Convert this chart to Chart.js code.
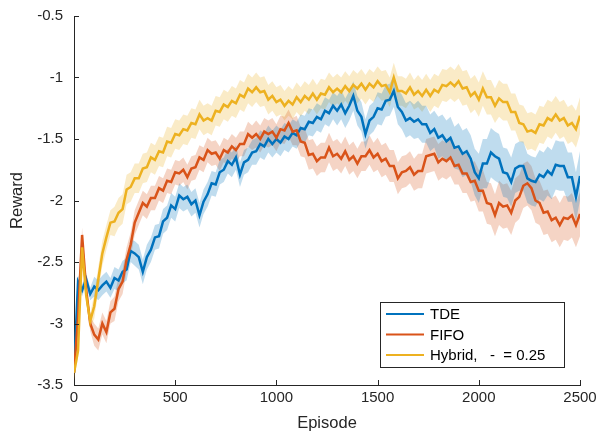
<!DOCTYPE html>
<html>
<head>
<meta charset="utf-8">
<script src="https://cdn.jsdelivr.net/npm/chart.js@4/dist/chart.umd.min.js"></script>
<style>
  html, body { margin:0; padding:0; background:#fff; }
  #wrap { width:598px; height:437px; }
</style>
</head>
<body>
<div id="wrap"><canvas id="chart" width="598" height="437"></canvas></div>
<script>
// episodes are sampled every 20 steps, 0..2500
const STEP = 20;

// mean reward
const tde = [
  -3.40,-2.66,-2.73,-2.64,-2.76,-2.70,-2.73,-2.69,-2.66,-2.71,
  -2.63,-2.65,-2.58,-2.56,-2.41,-2.43,-2.46,-2.58,-2.46,-2.40,
  -2.30,-2.29,-2.17,-2.14,-2.04,-2.07,-1.96,-1.99,-1.97,-2.03,
  -2.00,-2.12,-2.01,-1.95,-1.86,-1.87,-1.77,-1.75,-1.68,-1.71,
  -1.65,-1.79,-1.69,-1.67,-1.61,-1.60,-1.54,-1.56,-1.50,-1.54,
  -1.50,-1.53,-1.48,-1.50,-1.45,-1.47,-1.41,-1.42,-1.36,-1.37,
  -1.32,-1.34,-1.27,-1.29,-1.23,-1.27,-1.22,-1.29,-1.23,-1.15,
  -1.27,-1.32,-1.46,-1.35,-1.32,-1.25,-1.26,-1.19,-1.18,-1.11,
  -1.24,-1.28,-1.35,-1.33,-1.36,-1.34,-1.38,-1.38,-1.45,-1.42,
  -1.49,-1.47,-1.52,-1.49,-1.57,-1.56,-1.62,-1.60,-1.66,-1.77,
  -1.82,-1.70,-1.70,-1.61,-1.64,-1.66,-1.77,-1.78,-1.85,-1.74,
  -1.72,-1.72,-1.82,-1.84,-1.85,-1.79,-1.81,-1.76,-1.79,-1.71,
  -1.72,-1.72,-1.81,-1.81,-1.97,-1.80
];
const fifo = [
  -3.40,-2.95,-2.28,-2.72,-3.00,-3.09,-3.13,-3.00,-3.07,-2.91,
  -2.88,-2.72,-2.66,-2.48,-2.36,-2.18,-2.10,-2.02,-2.05,-1.98,
  -1.98,-1.90,-1.92,-1.84,-1.85,-1.77,-1.78,-1.75,-1.81,-1.74,
  -1.73,-1.65,-1.67,-1.59,-1.62,-1.61,-1.66,-1.59,-1.61,-1.56,
  -1.59,-1.54,-1.54,-1.46,-1.49,-1.46,-1.50,-1.44,-1.46,-1.44,
  -1.49,-1.42,-1.43,-1.37,-1.44,-1.43,-1.52,-1.53,-1.63,-1.62,
  -1.68,-1.65,-1.65,-1.57,-1.64,-1.62,-1.66,-1.60,-1.67,-1.64,
  -1.70,-1.64,-1.64,-1.59,-1.65,-1.62,-1.68,-1.66,-1.72,-1.72,
  -1.82,-1.77,-1.76,-1.73,-1.79,-1.76,-1.76,-1.64,-1.63,-1.62,
  -1.69,-1.66,-1.68,-1.65,-1.72,-1.71,-1.78,-1.78,-1.85,-1.84,
  -1.92,-1.92,-2.02,-2.03,-2.12,-2.02,-2.05,-2.04,-2.10,-2.00,
  -1.97,-1.88,-1.86,-1.90,-2.00,-2.02,-2.10,-2.09,-2.16,-2.14,
  -2.20,-2.14,-2.15,-2.12,-2.20,-2.11
];
const hybrid = [
  -3.40,-3.22,-2.38,-2.77,-2.98,-2.86,-2.64,-2.43,-2.30,-2.18,
  -2.17,-2.10,-2.07,-1.91,-1.89,-1.82,-1.82,-1.74,-1.73,-1.65,
  -1.67,-1.60,-1.61,-1.52,-1.53,-1.46,-1.47,-1.42,-1.43,-1.37,
  -1.38,-1.30,-1.35,-1.33,-1.35,-1.27,-1.28,-1.22,-1.24,-1.19,
  -1.21,-1.14,-1.16,-1.09,-1.12,-1.08,-1.12,-1.11,-1.18,-1.15,
  -1.20,-1.18,-1.23,-1.19,-1.22,-1.16,-1.20,-1.15,-1.18,-1.13,
  -1.18,-1.13,-1.14,-1.08,-1.12,-1.09,-1.12,-1.07,-1.11,-1.06,
  -1.09,-1.05,-1.10,-1.05,-1.08,-1.03,-1.07,-1.06,-1.12,-1.00,
  -1.11,-1.11,-1.13,-1.08,-1.14,-1.11,-1.15,-1.10,-1.15,-1.10,
  -1.12,-1.06,-1.07,-1.04,-1.07,-1.03,-1.09,-1.08,-1.15,-1.12,
  -1.18,-1.09,-1.16,-1.16,-1.23,-1.17,-1.20,-1.20,-1.28,-1.28,
  -1.37,-1.38,-1.44,-1.43,-1.45,-1.38,-1.39,-1.33,-1.35,-1.30,
  -1.35,-1.33,-1.39,-1.37,-1.42,-1.31
];

// half width of the shaded band, one value per 100 episodes
const tdeSpread    = [0.05,0.08,0.09,0.10,0.10,0.10,0.10,0.10,0.10,0.11,0.11,0.11,0.11,0.12,0.12,0.13,0.14,0.15,0.17,0.19,0.20,0.20,0.20,0.20,0.20,0.20];
const fifoSpread   = [0.06,0.09,0.10,0.10,0.10,0.10,0.10,0.10,0.10,0.11,0.11,0.12,0.12,0.12,0.12,0.13,0.13,0.14,0.15,0.16,0.17,0.18,0.18,0.18,0.18,0.18];
const hybridSpread = [0.06,0.10,0.12,0.12,0.12,0.12,0.12,0.12,0.12,0.12,0.12,0.12,0.12,0.12,0.12,0.12,0.12,0.13,0.13,0.14,0.14,0.15,0.15,0.15,0.15,0.15];

const xTicks = [0, 500, 1000, 1500, 2000, 2500];
const yTicks = [-3.5, -3, -2.5, -2, -1.5, -1, -0.5];

const seriesNames = ['TDE', 'FIFO', 'Hybrid,   -  = 0.25'];
const seriesColors = ['#0072BD', '#D95319', '#EDB120'];
const bandColors = ['rgba(0,114,189,0.25)', 'rgba(217,83,25,0.25)', 'rgba(237,177,32,0.25)'];

const AXIS = '#262626';
Chart.defaults.font.family = '"Liberation Sans", Arial, sans-serif';
Chart.defaults.color = AXIS;

function pts(vals){ return vals.map((v,i) => ({ x:i*STEP, y:v })); }
function band(vals, spread, sign){
  return vals.map((v,i) => ({ x:i*STEP, y:v + sign*spread[Math.floor(i*STEP/100)] }));
}

const means = [tde, fifo, hybrid];
const spreads = [tdeSpread, fifoSpread, hybridSpread];

const datasets = [];
means.forEach((m, k) => {
  datasets.push({ data:band(m, spreads[k], -1), borderWidth:0, pointRadius:0, fill:false, order:10+k });
  datasets.push({ data:band(m, spreads[k], 1), borderWidth:0, pointRadius:0, fill:'-1', backgroundColor:bandColors[k], order:10+k });
});
means.forEach((m, k) => {
  datasets.push({ data:pts(m), borderColor:seriesColors[k], borderWidth:2.5, pointRadius:0, fill:false, order:2-k });
});

// MATLAB style ticks pointing into the plot, and the boxed legend
const matlabBits = {
  id:'matlabBits',
  afterDraw(chart){
    const { ctx, chartArea:a, scales:{ x, y } } = chart;
    ctx.save();
    ctx.strokeStyle = AXIS;
    ctx.lineWidth = 1;
    ctx.beginPath();
    xTicks.forEach(t => { const px = Math.round(x.getPixelForValue(t)) + 0.5; ctx.moveTo(px, a.bottom); ctx.lineTo(px, a.bottom - 5); });
    yTicks.forEach(t => { const py = Math.round(y.getPixelForValue(t)) + 0.5; ctx.moveTo(a.left, py); ctx.lineTo(a.left + 5, py); });
    ctx.stroke();

    const bx = a.right - 200, by = a.bottom - 83, bw = 184, bh = 65;
    ctx.fillStyle = '#fff';
    ctx.fillRect(bx, by, bw, bh);
    ctx.strokeStyle = AXIS;
    ctx.strokeRect(bx + 0.5, by + 0.5, bw, bh);
    ctx.font = '15px "Liberation Sans", Arial, sans-serif';
    ctx.textBaseline = 'middle';
    ctx.fillStyle = '#000';
    seriesNames.forEach((name, k) => {
      const ly = by + 12 + k * 20.5;
      ctx.strokeStyle = seriesColors[k];
      ctx.lineWidth = 2;
      ctx.beginPath();
      ctx.moveTo(bx + 6, ly); ctx.lineTo(bx + 44, ly);
      ctx.stroke();
      ctx.fillText(name, bx + 50, ly + 1);
    });
    ctx.restore();
  }
};

new Chart(document.getElementById('chart'), {
  type:'line',
  data:{ datasets },
  plugins:[matlabBits],
  options:{
    responsive:false,
    animation:false,
    events:[],
    layout:{ padding:{ top:16, right:18, left:0, bottom:0 } },
    plugins:{ legend:{ display:false }, tooltip:{ enabled:false } },
    elements:{ line:{ tension:0 } },
    scales:{
      x:{
        type:'linear', min:0, max:2500,
        afterBuildTicks: s => { s.ticks = xTicks.map(v => ({ value:v })); },
        afterFit: s => { s.height = 52; s.paddingLeft = 0; s.paddingRight = 0; },
        grid:{ display:false, drawTicks:false },
        border:{ display:true, color:AXIS, width:1 },
        ticks:{ padding:4, font:{ size:15 }, color:AXIS, maxRotation:0, callback: v => String(v) },
        title:{ display:true, text:'Episode', font:{ size:16.5 }, color:AXIS, padding:{ top:0, bottom:4 } }
      },
      y:{
        type:'linear', min:-3.5, max:-0.5,
        afterBuildTicks: s => { s.ticks = yTicks.map(v => ({ value:v })); },
        afterFit: s => { s.width = 74; s.paddingTop = 0; s.paddingBottom = 0; },
        grid:{ display:false, drawTicks:false },
        border:{ display:true, color:AXIS, width:1 },
        ticks:{ padding:11, font:{ size:15 }, color:AXIS, callback: v => String(v) },
        title:{ display:true, text:'Reward', font:{ size:16.5 }, color:AXIS, padding:{ top:8, bottom:0 } }
      }
    }
  }
});
</script>
</body>
</html>
